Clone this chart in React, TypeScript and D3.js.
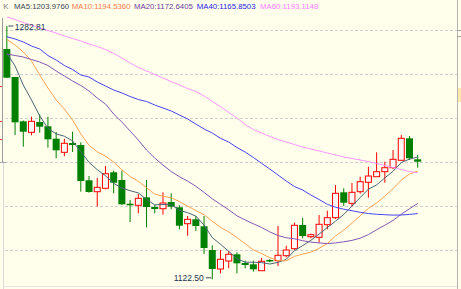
import React from 'react';
import * as d3 from 'd3';

// OHLC values (prices)
const openP = [1268.25, 1250.53, 1222.49, 1215.53, 1222.05, 1219.33, 1211.48, 1202.87, 1208.76, 1207.49, 1185.16, 1177.94, 1180.09, 1190.22, 1185.35, 1170.34, 1169.33, 1174.39, 1168.26, 1167.18, 1171.42, 1168.07, 1157.69, 1160.47, 1156.04, 1141.04, 1129.02, 1134.08, 1138.32, 1132.81, 1131.99, 1127.94, 1134.72, 1134.27, 1137.44, 1141.87, 1156.87, 1149.46, 1149.08, 1157.05, 1161.48, 1177.56, 1170.59, 1177.94, 1183.89, 1187.43, 1190.60, 1193.13, 1197.81, 1211.73, 1198.44];
const highP = [1282.81, 1250.6, 1223.00, 1225.41, 1226.93, 1225.41, 1215.72, 1211.48, 1215.91, 1209.20, 1187.87, 1186.61, 1194.21, 1191.23, 1191.23, 1172.69, 1176.48, 1185.35, 1169.52, 1177.56, 1176.93, 1169.33, 1162.56, 1162.56, 1162.56, 1144.02, 1141.04, 1140.41, 1139.59, 1134.27, 1134.27, 1135.98, 1135.35, 1156.23, 1143.76, 1158.32, 1161.48, 1151.36, 1163.19, 1165.91, 1182.18, 1180.09, 1183.45, 1187.43, 1193.76, 1202.87, 1196.93, 1204.33, 1213.82, 1213.19, 1201.17];
const lowP = [1249.90, 1213.82, 1206.42, 1213.63, 1215.28, 1205.79, 1199.08, 1200.34, 1203.06, 1177.94, 1177.31, 1168.44, 1179.46, 1176.93, 1169.52, 1158.76, 1164.27, 1155.41, 1164.27, 1163.38, 1166.80, 1154.14, 1150.09, 1153.07, 1138.51, 1122.50, 1126.29, 1129.46, 1126.29, 1129.46, 1127.31, 1127.75, 1133.26, 1130.92, 1136.42, 1141.04, 1148.45, 1148.45, 1145.66, 1154.14, 1160.66, 1168.89, 1168.44, 1176.67, 1174.14, 1187.24, 1183.63, 1192.31, 1197.81, 1198.00, 1193.13];
const closeP = [1250.09, 1221.86, 1215.91, 1222.49, 1219.08, 1211.10, 1204.14, 1208.57, 1207.49, 1184.71, 1177.75, 1180.72, 1189.33, 1183.63, 1169.96, 1169.33, 1173.76, 1168.26, 1166.99, 1170.79, 1168.44, 1156.42, 1160.47, 1156.23, 1142.31, 1129.02, 1135.16, 1138.32, 1132.62, 1131.55, 1128.83, 1133.89, 1133.89, 1137.69, 1141.04, 1156.67, 1149.90, 1150.72, 1157.31, 1161.48, 1176.93, 1170.97, 1177.56, 1184.27, 1187.87, 1190.60, 1193.13, 1198.44, 1211.73, 1199.08, 1196.93];

// Moving-average lines
const ma5 = [1265.72, 1257.49, 1245.47, 1235.98, 1225.91, 1218.06, 1214.52, 1213.06, 1210.09, 1203.19, 1196.54, 1191.86, 1188.00, 1183.25, 1180.28, 1178.57, 1177.18, 1173.00, 1169.65, 1169.84, 1169.65, 1166.17, 1164.65, 1162.50, 1156.80, 1148.89, 1144.65, 1140.22, 1135.47, 1133.32, 1133.32, 1133.07, 1132.18, 1133.20, 1135.10, 1140.66, 1143.83, 1147.18, 1151.11, 1155.22, 1159.27, 1163.51, 1168.83, 1174.27, 1179.52, 1182.24, 1186.67, 1190.85, 1196.36, 1198.57, 1199.84];
const ma10 = [1274.27, 1270.79, 1266.36, 1260.66, 1251.80, 1243.57, 1235.98, 1230.28, 1223.32, 1214.52, 1207.31, 1203.19, 1200.53, 1196.67, 1191.74, 1187.56, 1184.52, 1180.47, 1176.42, 1175.03, 1174.14, 1171.67, 1168.83, 1166.04, 1163.32, 1159.27, 1155.41, 1152.43, 1148.95, 1145.03, 1141.11, 1138.83, 1136.17, 1134.33, 1134.21, 1136.99, 1138.45, 1139.65, 1142.12, 1145.16, 1149.96, 1153.64, 1158.00, 1162.69, 1167.37, 1170.79, 1175.10, 1179.84, 1185.28, 1189.08, 1191.04];
const ma20 = [1265.09, 1264.14, 1263.19, 1261.61, 1260.03, 1257.81, 1254.33, 1251.17, 1248.00, 1245.15, 1241.67, 1237.24, 1233.45, 1227.12, 1222.05, 1216.36, 1210.66, 1204.33, 1199.27, 1194.78, 1190.72, 1187.43, 1184.65, 1181.36, 1177.50, 1173.45, 1169.96, 1166.49, 1162.69, 1160.03, 1157.62, 1155.28, 1152.50, 1150.22, 1148.76, 1148.13, 1146.93, 1146.04, 1145.53, 1145.09, 1145.53, 1146.23, 1147.12, 1148.51, 1150.79, 1153.89, 1156.74, 1159.77, 1163.70, 1167.12, 1170.54];
const ma40 = [1276.04, 1274.58, 1272.69, 1270.15, 1268.25, 1264.14, 1261.29, 1257.81, 1255.28, 1251.80, 1250.53, 1247.37, 1244.84, 1242.31, 1240.41, 1238.19, 1236.29, 1235.03, 1232.81, 1230.91, 1229.02, 1226.48, 1223.95, 1220.78, 1217.62, 1215.09, 1211.73, 1209.39, 1205.91, 1203.06, 1199.58, 1195.91, 1192.31, 1188.51, 1184.71, 1181.23, 1179.01, 1175.85, 1173.00, 1169.96, 1168.13, 1166.86, 1165.91, 1164.90, 1164.14, 1163.64, 1163.38, 1163.13, 1163.19, 1163.57, 1164.08];
const ma60 = [1288.51, 1286.92, 1285.03, 1283.44, 1281.54, 1279.96, 1278.38, 1276.48, 1274.90, 1273.32, 1271.42, 1269.84, 1267.94, 1265.41, 1262.56, 1259.39, 1256.55, 1254.33, 1252.12, 1249.90, 1247.69, 1245.47, 1243.25, 1241.36, 1238.51, 1235.03, 1231.86, 1228.07, 1224.59, 1220.47, 1217.31, 1215.09, 1212.87, 1210.98, 1209.39, 1207.81, 1206.23, 1204.96, 1203.70, 1202.43, 1201.17, 1199.90, 1198.95, 1198.00, 1197.05, 1195.79, 1194.52, 1193.26, 1191.99, 1190.72, 1189.97];

const gridValues = [1280.3, 1252.4, 1224.5, 1196.6, 1168.7, 1140.8];
const maNames = ['MA5', 'MA10', 'MA20', 'MA40', 'MA60'];
const maLegendValues = ['1203.9760', '1194.5360', '1172.6405', '1165.8503', '1193.1148'];
const highLabel = '1282.81';
const lowLabel = '1122.50';

export default function App() {
  const W = 461;
  const H = 289;
  const n = openP.length;
  const x = d3.scaleLinear().domain([0, n - 1]).range([6.85, 417.7]);
  const y = d3.scaleLinear().domain([1122.5, 1282.81]).range([279.3, 26]);

  const maSeries = [ma5, ma10, ma20, ma40, ma60];
  const lineColors = ['#4A6676', '#FFA24E', '#8456B4', '#4646F2', '#FF96FF'];
  const legendColors = ['#3C4650', '#FF7A4A', '#6C3CA0', '#1E1EE6', '#FF7CFF'];
  const legendX = [14, 71.7, 134, 196.7, 260];

  const lineGen = d3
    .line<number>()
    .x((_, i) => x(i))
    .y((d) => y(d));

  const iHigh = highP.indexOf(d3.max(highP) as number);
  const iLow = lowP.indexOf(d3.min(lowP) as number);

  return (
    <div style={{ position: 'absolute', left: 0, top: 0 }}>
      <svg width={W} height={H} style={{ display: 'block' }}>
        <rect x={0} y={0} width={W} height={H} fill="#FFFFEC" />
        {/* grid lines */}
        {gridValues.map((g, i) => (
          <line
            key={i}
            x1={5}
            x2={457}
            y1={Math.round(y(g)) + 0.5}
            y2={Math.round(y(g)) + 0.5}
            stroke="#CFCFCF"
            strokeDasharray="3,2"
          />
        ))}
        {/* frame bits */}
        <line x1={457.5} x2={457.5} y1={0} y2={H} stroke="#B4B4B4" />
        {gridValues.slice(0, 1).map((g, i) => (
          <line key={i} x1={457} x2={461} y1={Math.round(y(g)) + 0.5} y2={Math.round(y(g)) + 0.5} stroke="#A0A0A0" />
        ))}
        <line x1={457} x2={461} y1={36.5} y2={36.5} stroke="#A0A0A0" />
        <rect x={458} y={88} width={3} height={14} fill="#FFE9A8" />
        <line x1={2.5} x2={2.5} y1={18} y2={162.5} stroke="#9A9A9A" />
        <line x1={0} x2={6} y1={162.5} y2={162.5} stroke="#A8A8A8" />
        <line x1={3.5} x2={3.5} y1={163} y2={H} stroke="#D8D8D8" />
        <line x1={0} x2={2} y1={86.5} y2={86.5} stroke="#FF4040" />
        <line x1={0} x2={2} y1={121.5} y2={121.5} stroke="#FF4040" />
        <line x1={0} x2={2} y1={139.5} y2={139.5} stroke="#FF4040" />
        <line x1={3} x2={457} y1={286.5} y2={286.5} stroke="#E4E4E4" />

        {/* candles */}
        {openP.map((o, i) => {
          const c = closeP[i];
          const up = c >= o;
          const cx = x(i);
          const top = y(Math.max(o, c));
          const bot = y(Math.min(o, c));
          if (up) {
            const col = '#FF0000';
            return (
              <g key={i}>
                <line x1={cx} x2={cx} y1={y(highP[i])} y2={top} stroke={col} />
                <line x1={cx} x2={cx} y1={bot} y2={y(lowP[i])} stroke={col} />
                <rect x={cx - 3} y={top} width={6} height={Math.max(bot - top, 1)} fill="#FFF6F6" stroke={col} />
              </g>
            );
          }
          const col = '#008000';
          return (
            <g key={i}>
              <line x1={cx} x2={cx} y1={y(highP[i])} y2={y(lowP[i])} stroke={col} />
              <rect x={cx - 3.5} y={top} width={7} height={Math.max(bot - top, 1.5)} fill={col} />
            </g>
          );
        })}

        {/* moving averages */}
        {maSeries.map((s, k) => (
          <path key={k} d={lineGen(s) || ''} fill="none" stroke={lineColors[k]} strokeWidth={1} />
        ))}

        {/* legend */}
        <text x={3.3} y={8.7} fontFamily="Liberation Sans, Arial, sans-serif" fontSize={7.8} fill="#7A7A7A">
          K
        </text>
        {maNames.map((nm, k) => (
          <text
            key={nm}
            x={legendX[k]}
            y={8.7}
            fontFamily="Liberation Sans, Arial, sans-serif"
            fontSize={7.8}
            fill={legendColors[k]}
          >
            {nm + ':' + maLegendValues[k]}
          </text>
        ))}

        {/* extreme labels */}
        <line x1={x(iHigh) + 1.5} x2={x(iHigh) + 6.5} y1={y(highP[iHigh])} y2={y(highP[iHigh])} stroke="#3A4A5A" />
        <text
          x={x(iHigh) + 8}
          y={y(highP[iHigh]) + 4}
          fontFamily="Liberation Sans, Arial, sans-serif"
          fontSize={8.5}
          fill="#1E3550"
        >
          {highLabel}
        </text>
        <line x1={x(iLow) - 6.5} x2={x(iLow) - 1} y1={y(lowP[iLow]) - 1.5} y2={y(lowP[iLow]) - 1.5} stroke="#3A4A5A" />
        <text
          x={x(iLow) - 8.5}
          y={y(lowP[iLow]) + 2}
          textAnchor="end"
          fontFamily="Liberation Sans, Arial, sans-serif"
          fontSize={8.5}
          fill="#1E3550"
        >
          {lowLabel}
        </text>
      </svg>
    </div>
  );
}
